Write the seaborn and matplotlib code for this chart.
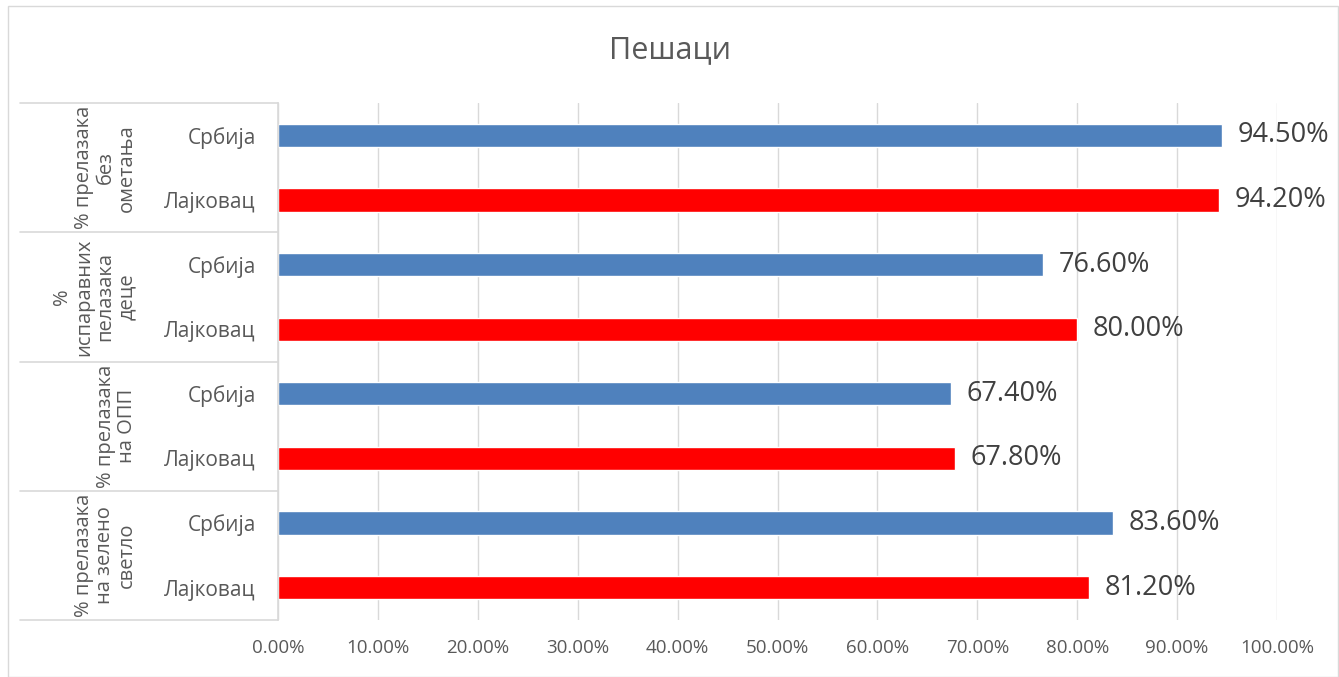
import pandas as pd
import seaborn as sns
import matplotlib.pyplot as plt
import matplotlib.transforms as mtransforms
from matplotlib.lines import Line2D
from matplotlib.patches import Rectangle

# chart data, top to bottom
groups = [
    "% прелазака\nбез\nометања",
    "%\nиспаравних\nпелазака\nдеце",
    "% прелазака\nна ОПП",
    "% прелазака\nна зелено\nсветло",
]
countries = ["Србија", "Лајковац"]
serbia = [94.5, 76.6, 67.4, 83.6]
lajkovac = [94.2, 80.0, 67.8, 81.2]
x_ticks = [0, 10, 20, 30, 40, 50, 60, 70, 80, 90, 100]

rows = []
for i, g in enumerate(groups):
    rows.append({"row": f"{i}-{countries[0]}", "country": countries[0], "value": serbia[i]})
    rows.append({"row": f"{i}-{countries[1]}", "country": countries[1], "value": lajkovac[i]})
df = pd.DataFrame(rows)

sns.set_theme(style="white")
plt.rcParams["font.family"] = ["Open Sans", "DejaVu Sans"]
text_gray = "#595959"
line_gray = "#D9D9D9"

fig = plt.figure(figsize=(13.39, 6.77), dpi=100)
ax = fig.add_axes([278 / 1339, 1 - 620 / 677, (1277 - 278) / 1339, 517 / 677])

sns.barplot(data=df, x="value", y="row", hue="country", dodge=False, width=0.36,
            saturation=1, palette={"Србија": "#4F81BD", "Лајковац": "#FF0000"},
            legend=False, ax=ax)

for cont in ax.containers:
    ax.bar_label(cont, labels=[f"{v:.2f}%" for v in cont.datavalues],
                 padding=11, fontsize=19.5, color="#404040")

ax.set_xlim(0, 100)
ax.set_ylim(len(df) - 0.5, -0.5)
ax.set_xticks(x_ticks)
ax.set_xticklabels([f"{t:.2f}%" for t in x_ticks], color=text_gray, fontsize=13.5)
ax.set_yticks(range(len(df)))
ax.set_yticklabels(df["country"], color=text_gray, fontsize=15)
ax.tick_params(axis="x", length=0, pad=14)
ax.tick_params(axis="y", length=0, pad=16)
ax.set_xlabel("")
ax.set_ylabel("")
ax.grid(axis="x", color=line_gray, linewidth=1)
ax.set_axisbelow(True)
for side in ["top", "right", "bottom"]:
    ax.spines[side].set_visible(False)
ax.spines["left"].set_color(line_gray)
ax.spines["left"].set_linewidth(1.2)

# category table on the left
trans = mtransforms.blended_transform_factory(fig.transFigure, ax.transData)
x0 = 20 / 1339
x1 = 278 / 1339
for k in range(len(groups) + 1):
    y = 2 * k - 0.5
    fig.add_artist(Line2D([x0, x1], [y, y], transform=trans, color=line_gray, linewidth=1.2))
for k, g in enumerate(groups):
    fig.text(137 / 1339, 2 * k + 0.5, g, transform=trans, rotation=90,
             rotation_mode="anchor", ha="center", va="bottom", ma="center",
             fontsize=14.5, color=text_gray, linespacing=1.1)

fig.suptitle("Пешаци", y=1 - 50 / 677, va="center", fontsize=22, color=text_gray)

fig.add_artist(Rectangle((8 / 1339, 0), 1 - 9 / 1339, 1 - 6 / 677, transform=fig.transFigure,
                         fill=False, edgecolor=line_gray, linewidth=1))

fig.savefig("out.png", dpi=100)
